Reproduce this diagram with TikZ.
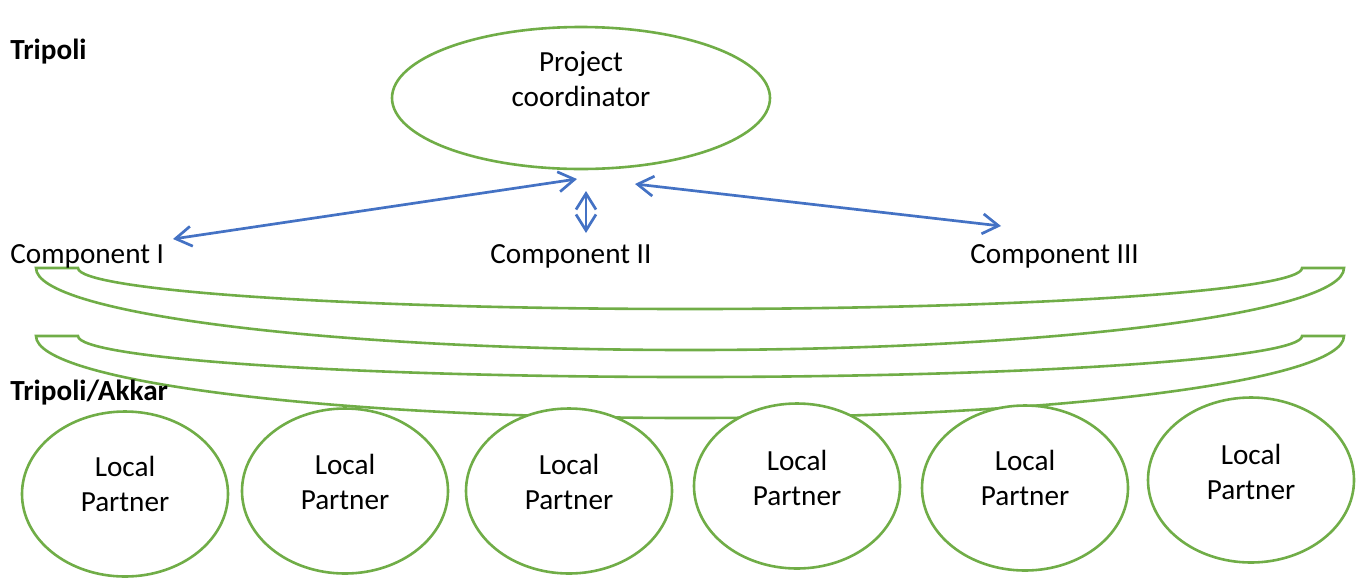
\documentclass[tikz,border=0pt]{standalone}
\usepackage{fontspec}
\setmainfont{Carlito}
\usetikzlibrary{arrows.meta,shapes.geometric}
\definecolor{grn}{HTML}{70AD47}
\definecolor{blu}{HTML}{4472C4}
\begin{document}
\begin{tikzpicture}[x=0.5pt,y=0.5pt,
  every node/.style={font=\fontsize{14.6pt}{17.5pt}\selectfont, inner sep=0pt},
  gshape/.style={draw=grn, line width=1.3pt, fill=white},
  oval/.style={gshape, ellipse, minimum width=103pt, minimum height=82.5pt},
  lbl/.style={anchor=base west},
  link/.style={draw=blu, line width=1.35pt, {Straight Barb[length=8pt,width=10pt]}-{Straight Barb[length=8pt,width=10pt]}}
]
\useasboundingbox (0,0) rectangle (1359,-579);

% curved bands
\foreach \t in {268,336} {
  \draw[gshape] (36,-\t) -- (78,-\t)
    arc[start angle=180,end angle=360,x radius=612,y radius=41]
    -- (1344,-\t)
    arc[start angle=0,end angle=-180,x radius=654,y radius=82] -- cycle;
}

% project coordinator
\node[gshape, ellipse, minimum width=189pt, minimum height=71pt] (pc) at (581,-98) {};
\node[align=center] (pct) at (581,-79.5) {Project\\coordinator};

% arrows
\coordinate (a1s) at (577,-179); \coordinate (a1e) at (173,-239);
\coordinate (a2s) at (586,-191); \coordinate (a2e) at (586,-233);
\coordinate (a3s) at (635,-184); \coordinate (a3e) at (1001,-226);
\draw[link] (a1s) -- (a1e);
\draw[link] (a2s) -- (a2e);
\draw[link] (a3s) -- (a3e);

% labels
\node[lbl] (trip) at (10,-59) {\textbf{Tripoli}};
\node[lbl] (c1) at (10,-263) {Component I};
\node[lbl] (c2) at (490,-263) {Component II};
\node[lbl] (c3) at (970,-263) {Component III};
\node[lbl] (ta) at (10,-400) {\textbf{Tripoli/Akkar}};

% local partners
\foreach \n/\cx/\cy/\ty in {1/125/494/484, 2/345/491/482, 3/569/491/482, 4/797/486/478, 5/1025/488/478, 6/1251/480/472} {
  \node[oval] (lp\n) at (\cx,-\cy) {};
  \node[align=center] (lpt\n) at (\cx,-\ty) {Local\\Partner};
}
\end{tikzpicture}
\end{document}
